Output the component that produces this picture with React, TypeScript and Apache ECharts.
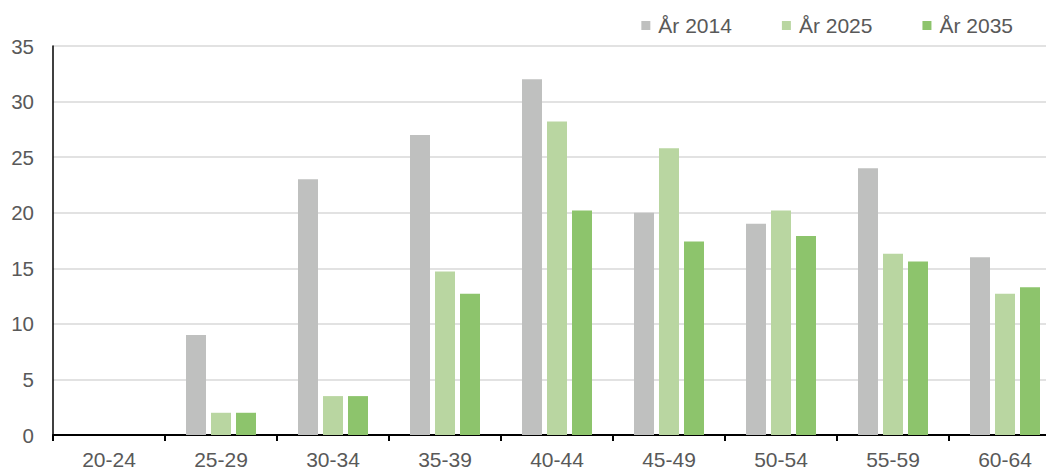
import React, { useEffect, useRef } from "react";
import * as echarts from "echarts";

const categories = ["20-24", "25-29", "30-34", "35-39", "40-44", "45-49", "50-54", "55-59", "60-64"];
const seriesNames = ["År 2014", "År 2025", "År 2035"];
const values2014 = [0, 9, 23, 27, 32, 20, 19, 24, 16];
const values2025 = [0, 2, 3.5, 14.7, 28.2, 25.8, 20.2, 16.3, 12.7];
const values2035 = [0, 2, 3.5, 12.7, 20.2, 17.4, 17.9, 15.6, 13.3];
const colors = ["#BFC0BF", "#B9D6A1", "#8DC46C"];

export default function App() {
  const ref = useRef<HTMLDivElement>(null);
  useEffect(() => {
    if (!ref.current) return;
    const chart = echarts.init(ref.current, null, { renderer: "svg" });
    const font = "'Liberation Sans', Arial, sans-serif";
    const data = [values2014, values2025, values2035];
    chart.setOption({
      animation: false,
      textStyle: { fontFamily: font },
      legend: {
        data: seriesNames,
        right: 44,
        top: 10,
        icon: "rect",
        itemWidth: 9,
        itemHeight: 9,
        itemGap: 50,
        textStyle: { fontSize: 21, color: "#595959", fontFamily: font, padding: [0, 0, 0, 3] },
      },
      grid: { left: 53, right: 1, top: 46, bottom: 34, containLabel: false },
      xAxis: {
        type: "category",
        data: categories,
        axisLine: { show: true, lineStyle: { color: "#000", width: 2 } },
        axisTick: { show: true, length: 6, lineStyle: { color: "#000", width: 2 } },
        axisLabel: { color: "#595959", fontSize: 21, margin: 14, fontFamily: font },
      },
      yAxis: {
        type: "value",
        min: 0,
        max: 35,
        interval: 5,
        axisLine: { show: true, lineStyle: { color: "#000", width: 1.5 } },
        axisTick: { show: false },
        splitLine: { show: true, lineStyle: { color: "#D9D9D9", width: 1.5 } },
        axisLabel: { color: "#595959", fontSize: 20.5, margin: 19, fontFamily: font },
      },
      series: seriesNames.map((name, i) => ({
        name,
        type: "bar",
        data: data[i],
        barWidth: 20,
        barGap: "25%",
        itemStyle: { color: colors[i] },
      })),
    });
    return () => chart.dispose();
  }, []);
  return (
    <div style={{ position: "absolute", left: 0, top: 0, width: 1046, height: 470, overflow: "hidden" }}>
      <div ref={ref} style={{ width: 1062, height: 470 }} />
    </div>
  );
}
